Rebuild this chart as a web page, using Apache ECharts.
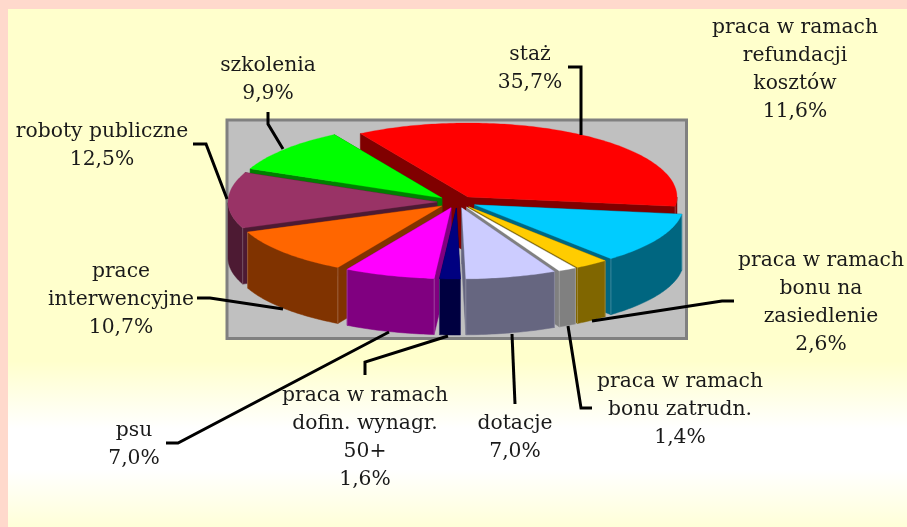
<!DOCTYPE html>
<html>
<head>
<meta charset="utf-8">
<style>html,body{margin:0;padding:0;background:#FFD9CC}#c{width:907px;height:527px}</style>
<script src="https://cdn.jsdelivr.net/npm/echarts@6/dist/echarts.min.js"></script>
</head>
<body>
<div id="c"></div>
<script>
// DATA
const categories = ['staż','praca w ramach\nrefundacji\nkosztów','praca w ramach\nbonu na\nzasiedlenie','praca w ramach\nbonu zatrudn.','dotacje','praca w ramach\ndofin. wynagr.\n50+','psu','prace\ninterwencyjne','roboty publiczne','szkolenia'];
const values = [35.7,11.6,2.6,1.4,7.0,1.6,7.0,10.7,12.5,9.9];
const topColors = ['#FF0000','#00CCFF','#FFCC00','#FFFFFF','#CCCCFF','#000080','#FF00FF','#FF6600','#993366','#00FF00'];
const wallColors = ['#800000','#006680','#806600','#808080','#666680','#000040','#800080','#803300','#4D1A33','#008000'];

// LAYOUT
const plotRect = {x:227,y:120,width:459.5,height:218.5};
const pie = {cx:457,cy:202,rx:209,ryBack:74,ryFront:71,depth:56,explodeX:20,explodeY:6,startDeg:121};
const labelPos = [[530,55],[795,28],[821,261],[680,382],[515,424],[365,396],[134,431],[121,272],[102,132],[268,66]];
const leaders = [
 [[568,67],[581,67],[581,135]],
 null,
 [[592,321],[722,301],[734,301]],
 [[568,326],[581,408],[592,408]],
 [[512,334],[515,404]],
 [[365,375],[365,362],[448,336]],
 [[166,443],[178,443],[389,332]],
 [[197,298],[210,298],[283,309]],
 [[193,144],[206,144],[227,199]],
 [[268,112],[268,124],[283,149]]
];
const lineH = 27.8;
const total = values.reduce((a,b)=>a+b,0);

// slice angles (clockwise from the start angle)
const slices = [];
let acc = 0;
values.forEach((v,i)=>{
  const a0 = pie.startDeg - acc/total*360;
  const a1 = pie.startDeg - (acc+v)/total*360;
  acc += v;
  slices.push({a0,a1,mid:(a0+a1)/2,i});
});
const rad = d => d*Math.PI/180;
const order = slices.slice().sort((p,q)=>Math.sin(rad(q.mid))-Math.sin(rad(p.mid))).map(s=>s.i);

function apex(s){
  return [pie.cx + pie.explodeX*Math.cos(rad(s.mid)), pie.cy - pie.explodeY*Math.sin(rad(s.mid))];
}
function pt(s,deg){
  const ry = Math.sin(rad(deg))>0 ? pie.ryBack : pie.ryFront;
  const a = apex(s);
  return [a[0]+pie.rx*Math.cos(rad(deg)), a[1]-ry*Math.sin(rad(deg))];
}
const down = p => [p[0],p[1]+pie.depth];

function renderSlice(params){
  const s = slices[params.dataIndex];
  const z = order.indexOf(s.i)*10;
  const top = [apex(s)], arc = [];
  for(let d=s.a0; d>s.a1; d-=1) arc.push(d);
  arc.push(s.a1);
  arc.forEach(d=>top.push(pt(s,d)));
  const wall = wallColors[s.i];
  const st = {fill:wall,stroke:wall,lineWidth:0.5};
  const poly = (points,z2,style) => ({type:'polygon',shape:{points},style,z2,silent:true});
  const children = [];
  const A = apex(s), P0 = pt(s,s.a0), P1 = pt(s,s.a1);
  children.push(poly([A,P0,down(P0),down(A)],z,st));
  children.push(poly([A,P1,down(P1),down(A)],z+1,st));
  // outer wall: only the part of the arc facing the viewer
  const front = arc.filter(d=>Math.sin(rad(d))<=0.001);
  if(front.length>1){
    const upper = front.map(d=>pt(s,d));
    children.push(poly(upper.concat(upper.slice().reverse().map(down)),z+2,st));
  }
  // faint highlight on the front corners
  [s.a0,s.a1].forEach(d=>{
    if(Math.sin(rad(d))<0){
      const p = pt(s,d);
      children.push({type:'line',shape:{x1:p[0],y1:p[1],x2:p[0],y2:p[1]+pie.depth},
        style:{stroke:'rgba(255,255,255,0.22)',lineWidth:1},z2:z+3,silent:true});
    }
  });
  children.push(poly(top,z+4,{fill:topColors[s.i],stroke:topColors[s.i],lineWidth:0.3}));
  return {type:'group',children};
}

const pct = v => v.toFixed(1).replace('.',',')+'%';
const graphics = [];
graphics.push({type:'rect',shape:{x:0,y:0,width:907,height:527},style:{fill:'#FFD9CC'},silent:true,z:-10});
graphics.push({type:'rect',shape:{x:8,y:9,width:899,height:518},silent:true,z:-9,style:{fill:new echarts.graphic.LinearGradient(0,0,0,1,[
  {offset:0,color:'#FFFFCC'},{offset:0.68,color:'#FFFFCC'},{offset:0.81,color:'#FFFFFF'},{offset:0.89,color:'#FFFFFF'},{offset:1,color:'#FFFFD8'}])}});
graphics.push({type:'rect',shape:plotRect,silent:true,z:-8,style:{fill:'#C0C0C0',stroke:'#808080',lineWidth:3}});
leaders.forEach(l=>{ if(l) graphics.push({type:'polyline',shape:{points:l},silent:true,z:20,style:{fill:null,stroke:'#000',lineWidth:3,lineJoin:'miter'}}); });
categories.forEach((c,i)=>{
  const lines = (c+'\n'+pct(values[i])).split('\n');
  lines.forEach((t,k)=>graphics.push({type:'text',silent:true,z:30,x:labelPos[i][0],y:labelPos[i][1]+k*lineH,
    style:{text:t,fill:'#1A1A1A',font:'20.3px "DejaVu Serif"',align:'center',verticalAlign:'middle'}}));
});

const chart = echarts.init(document.getElementById('c'),null,{renderer:'canvas',width:907,height:527});
chart.setOption({
  animation:false,
  graphic:{elements:graphics},
  series:[{type:'custom',coordinateSystem:'none',silent:true,renderItem:renderSlice,
    data:values.map((v,i)=>({name:categories[i],value:v})),z:10}]
});
</script>
</body>
</html>
